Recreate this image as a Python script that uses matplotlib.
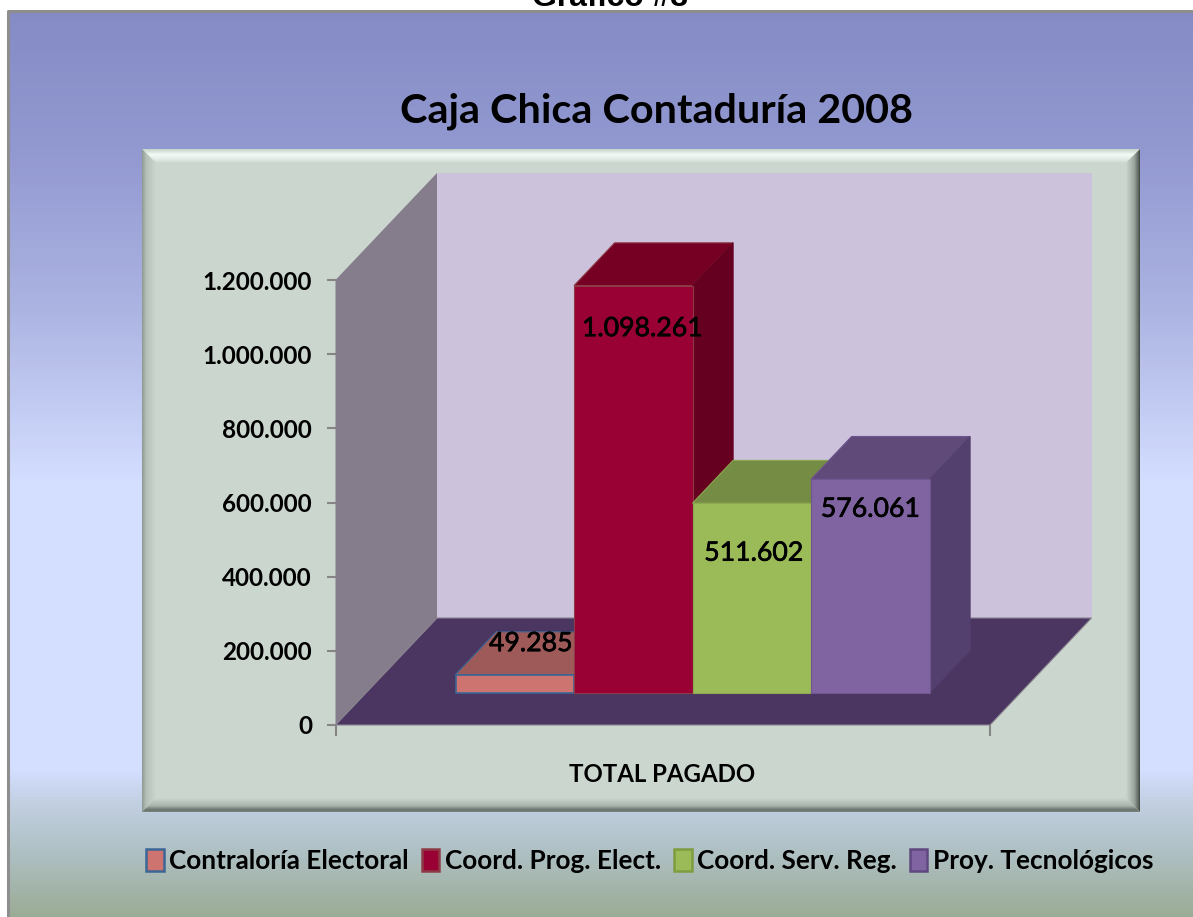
import numpy as np
import matplotlib
matplotlib.use("Agg")
import matplotlib.pyplot as plt
import matplotlib.patheffects as pe
from matplotlib.colors import LinearSegmentedColormap
from matplotlib.patches import Polygon, Patch
from matplotlib.ticker import FuncFormatter

# Datos del grafico
categorias = ["Contraloría Electoral", "Coord. Prog. Elect.", "Coord. Serv. Reg.", "Proy. Tecnológicos"]
valores = [49285, 1098261, 511602, 576061]
etiqueta_x = "TOTAL PAGADO"
titulo = "Caja Chica Contaduría 2008"
ticks_y = [0, 200000, 400000, 600000, 800000, 1000000, 1200000]

# Colores: frente, arriba, lado, borde
colores_frente = ["#CD7471", "#990033", "#9BBB59", "#8064A2"]
colores_arriba = ["#9E5A58", "#750024", "#748C43", "#604A7A"]
colores_lado = ["#8A4E4C", "#660020", "#647A3A", "#54406E"]
colores_borde = ["#3C6696", "#8E3A46", "#8CA850", "#705590"]

W, H = 1193, 917
FONT = "Lato"
plt.rcParams["font.family"] = [FONT, "DejaVu Sans"]

fig = plt.figure(figsize=(W / 100, H / 100), dpi=100, facecolor="white")

# Fondo en coordenadas de pixel
bg = fig.add_axes([0, 0, 1, 1])
bg.set_xlim(0, W)
bg.set_ylim(H, 0)
bg.axis("off")


def degradado(ax, extent, stops, vertical=True, clip=None, zorder=1):
    x0, x1, y0, y1 = extent
    cmap = LinearSegmentedColormap.from_list("g", stops)
    grad = np.linspace(0, 1, 256)
    img = grad.reshape(-1, 1) if vertical else grad.reshape(1, -1)
    im = ax.imshow(img, extent=[x0, x1, y1, y0], cmap=cmap, aspect="auto", zorder=zorder, origin="upper")
    if clip is not None:
        p = Polygon(clip, closed=True, transform=ax.transData, fc="none", ec="none")
        ax.add_patch(p)
        im.set_clip_path(p)
    return im


degradado(bg, (8, W, 10, H), [
    (0.0, "#858BC4"), (0.15, "#9298D0"), (0.33, "#ACB4E2"), (0.52, "#D4DEFF"),
    (0.84, "#D4DEFF"), (0.875, "#C2D0E2"), (0.93, "#AFC0C4"), (1.0, "#9BAC96")])
bg.plot([7.5, 7.5, W], [H, 10.5, 10.5], color="#8E8E8E", lw=2.2, zorder=2)
bg.text(610, 6, "Gráfico #3", family=["Liberation Sans"], fontweight="bold", fontsize=23,
        ha="center", va="baseline", zorder=2)

# Panel con bisel
px0, px1, py0, py1 = 142, 1140, 149, 812
b = 14
bg.add_patch(Polygon([(px0, py0), (px1, py0), (px1, py1), (px0, py1)], fc="#CBD7CE", ec="none", zorder=2))
degradado(bg, (px0, px1, py0, py0 + b), [(0, "#C4D2C8"), (0.4, "#F4FAF6"), (0.75, "#E0EAE4"), (1, "#CBD7CE")],
          clip=[(px0, py0), (px1, py0), (px1 - b, py0 + b), (px0 + b, py0 + b)], zorder=3)
degradado(bg, (px0, px0 + b, py0, py1), [(0, "#8C9890"), (0.3, "#B4C0B8"), (1, "#CBD7CE")], vertical=False,
          clip=[(px0, py0), (px0 + b, py0 + b), (px0 + b, py1 - b), (px0, py1)], zorder=3)
degradado(bg, (px1 - b, px1, py0, py1), [(0, "#CBD7CE"), (0.6, "#98A49C"), (0.9, "#5C645E"), (1, "#3C423E")], vertical=False,
          clip=[(px1, py0), (px1 - b, py0 + b), (px1 - b, py1 - b), (px1, py1)], zorder=3)
degradado(bg, (px0, px1, py1 - b, py1), [(0, "#CBD7CE"), (0.55, "#A8B4AC"), (0.85, "#68726C"), (1, "#7C8680")],
          clip=[(px0, py1), (px0 + b, py1 - b), (px1 - b, py1 - b), (px1, py1)], zorder=3)

# Ejes de datos
ax = fig.add_axes([335.5 / W, 1 - 725 / H, 654.5 / W, 445 / H])
ax.patch.set_alpha(0)
ancho_px = 118.5
ax.set_xlim(-120 / ancho_px, -120 / ancho_px + 654.5 / ancho_px)
ax.set_ylim(0, ticks_y[-1])
prof_x = 101.5 / ancho_px
prof_y = 107 / 445 * ticks_y[-1]


def proy(x, y, z):
    return (x + z * prof_x, y + z * prof_y)


def cara(puntos, fc, ec="none", lw=0.8, zorder=2):
    ax.add_patch(Polygon([proy(*p) for p in puntos], closed=True, fc=fc, ec=ec, lw=lw,
                         zorder=zorder, clip_on=False, joinstyle="miter"))


x0, x1 = ax.get_xlim()
ymax = ticks_y[-1]
cara([(x0, 0, 1), (x1, 0, 1), (x1, ymax, 1), (x0, ymax, 1)], "#CCC2DC")
cara([(x0, 0, 0), (x0, 0, 1), (x0, ymax, 1), (x0, ymax, 0)], "#857C8C")
cara([(x0, 0, 0), (x1, 0, 0), (x1, 0, 1), (x0, 0, 1)], "#4A3660", ec="#8A8490", lw=0.8)

# Barras en 3D
z0, z1 = 0.3, 0.7
for i, v in enumerate(valores):
    xa = i - z0 * prof_x
    xb = xa + 1
    ec = colores_borde[i]
    cara([(xa, v, z0), (xb, v, z0), (xb, v, z1), (xa, v, z1)], colores_arriba[i], ec=ec, zorder=3 + i)
    cara([(xb, 0, z0), (xb, 0, z1), (xb, v, z1), (xb, v, z0)], colores_lado[i], ec=colores_lado[i], zorder=3 + i)
    cara([(xa, 0, z0), (xb, 0, z0), (xb, v, z0), (xa, v, z0)], colores_frente[i], ec=ec, lw=1.2 if i == 0 else 0.8, zorder=3 + i)

# Etiquetas de valor, desplazadas en pixeles respecto a la barra
offsets = [(16, 31), (9, -43), (2, -50), (0, -30)]
for i, v in enumerate(valores):
    xa = i - z0 * prof_x
    xc, yc = proy(xa + 0.5, v, z0)
    ax.annotate(f"{v:,}".replace(",", "."), (xc, yc),
                xytext=(offsets[i][0] * 0.72, offsets[i][1] * 0.72), textcoords="offset points",
                ha="center", va="center", fontsize=19.2, zorder=20, color="black", annotation_clip=False,
                path_effects=[pe.withStroke(linewidth=0.5, foreground="black")])

# Ejes
for s in ax.spines.values():
    s.set_visible(False)
ax.set_yticks(ticks_y)
ax.yaxis.set_major_formatter(FuncFormatter(lambda v, pos: f"{v:,.0f}".replace(",", ".")))
ax.tick_params(axis="y", length=6.5, width=1.5, color="#858585", pad=10.5, labelsize=17.5)
ax.set_xticks([x0, x1])
ax.set_xticklabels(["", ""])
ax.tick_params(axis="x", length=8, width=1.5, color="#858585")
for t in ax.get_yticklabels():
    t.set_fontweight("bold")
bg.text(662, 774, etiqueta_x, fontsize=17.3, fontweight="bold", ha="center", va="center", zorder=5)

# Titulo
bg.text(656, 111, titulo, fontsize=29.8, fontweight="bold", ha="center", va="center", zorder=5)

# Leyenda
handles = [Patch(facecolor=colores_frente[i], edgecolor=e, linewidth=1.8) for i, e in
           enumerate(["#3C6696", "#8E3A46", "#7E9C40", "#5F4880"])]
leg = fig.legend(handles, categorias, ncol=4, loc="center", bbox_to_anchor=(649.5 / W, 1 - 861 / H),
                 frameon=False, prop={"family": FONT, "weight": "bold", "size": 18.8},
                 handlelength=0.68, handleheight=0.9, handletextpad=0.2, columnspacing=0.5,
                 borderpad=0, borderaxespad=0)

fig.savefig("out.png", dpi=100)
